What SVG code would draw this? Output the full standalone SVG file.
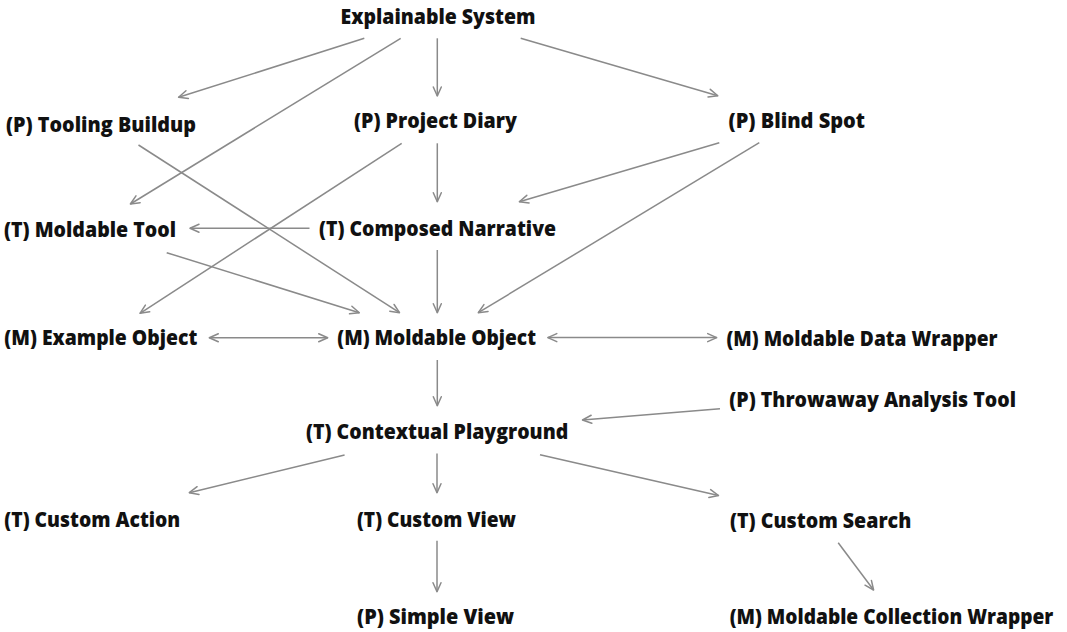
<svg xmlns="http://www.w3.org/2000/svg" width="1067" height="632" viewBox="0 0 1067 632">
<style>
  text { font-family: "Open Sans", "Lato", "Liberation Sans", sans-serif; font-weight: 800; font-size: 21px; fill: #111; font-variant-ligatures: none; }
  .e { stroke: #8a8a8a; stroke-width: 1.5; fill: none; marker-end: url(#ah); }
  .b { marker-start: url(#ah); }
</style>
<defs>
  <marker id="ah" markerUnits="userSpaceOnUse" markerWidth="14" markerHeight="12" viewBox="-11 -6 14 12" refX="0" refY="0" orient="auto-start-reverse">
    <path d="M-9,-4 L0,0 L-9,4" fill="none" stroke="#8a8a8a" stroke-width="1.5" stroke-linecap="round" stroke-linejoin="round"/>
  </marker>
</defs>
<rect width="1067" height="632" fill="#fff"/>
<g id="connectors">
  <line class="e" x1="364.3" y1="38.3" x2="178.6" y2="97.3"/>
  <line class="e" x1="400.7" y1="38.3" x2="130.4" y2="204"/>
  <line class="e" x1="437.3" y1="38.3" x2="437.3" y2="96"/>
  <line class="e" x1="520.7" y1="38.3" x2="717.8" y2="95.7"/>
  <line class="e" x1="138.5" y1="145" x2="399.5" y2="312.7"/>
  <line class="e" x1="401.7" y1="143.3" x2="140" y2="313.3"/>
  <line class="e" x1="437.3" y1="143.3" x2="437.3" y2="201.7"/>
  <line class="e" x1="719.3" y1="142.7" x2="519.3" y2="201.7"/>
  <line class="e" x1="759.3" y1="142.7" x2="478.3" y2="312.7"/>
  <line class="e" x1="309.5" y1="228.3" x2="190" y2="228.3"/>
  <line class="e" x1="166.7" y1="252.7" x2="359.3" y2="312.7"/>
  <line class="e" x1="437.3" y1="250" x2="437.3" y2="312.7"/>
  <line class="e b" x1="209.3" y1="337.7" x2="327.7" y2="337.7"/>
  <line class="e b" x1="547.8" y1="337.6" x2="716.7" y2="337.6"/>
  <line class="e" x1="437.3" y1="360" x2="437.3" y2="405.7"/>
  <line class="e" x1="720" y1="408.7" x2="582.5" y2="420"/>
  <line class="e" x1="344.6" y1="455" x2="189.3" y2="492.7"/>
  <line class="e" x1="437" y1="453.5" x2="437" y2="492.7"/>
  <line class="e" x1="540" y1="454.7" x2="718.5" y2="495.5"/>
  <line class="e" x1="437" y1="540.7" x2="437" y2="591.7"/>
  <line class="e" x1="838.2" y1="542.7" x2="873.6" y2="590"/>
</g>
<g id="n-explainable-system"><text x="340.5" y="24" textLength="195" lengthAdjust="spacingAndGlyphs">Explainable System</text></g>
<g id="n-tooling-buildup"><text x="6" y="131.7" textLength="190" lengthAdjust="spacingAndGlyphs">(P) Tooling Buildup</text></g>
<g id="n-project-diary"><text x="354" y="128.3" textLength="163" lengthAdjust="spacingAndGlyphs">(P) Project Diary</text></g>
<g id="n-blind-spot"><text x="728.5" y="127.7" textLength="136.5" lengthAdjust="spacingAndGlyphs">(P) Blind Spot</text></g>
<g id="n-moldable-tool"><text x="4" y="236.7" textLength="172" lengthAdjust="spacingAndGlyphs">(T) Moldable Tool</text></g>
<g id="n-composed-narrative"><text x="319" y="236" textLength="237" lengthAdjust="spacingAndGlyphs">(T) Composed Narrative</text></g>
<g id="n-example-object"><text x="4.3" y="345" textLength="193" lengthAdjust="spacingAndGlyphs">(M) Example Object</text></g>
<g id="n-moldable-object"><text x="337.3" y="345.3" textLength="198.7" lengthAdjust="spacingAndGlyphs">(M) Moldable Object</text></g>
<g id="n-moldable-data-wrapper"><text x="726.5" y="345.7" textLength="271" lengthAdjust="spacingAndGlyphs">(M) Moldable Data Wrapper</text></g>
<g id="n-throwaway-analysis-tool"><text x="729.3" y="406.7" textLength="286.7" lengthAdjust="spacingAndGlyphs">(P) Throwaway Analysis Tool</text></g>
<g id="n-contextual-playground"><text x="306" y="438.5" textLength="262.3" lengthAdjust="spacingAndGlyphs">(T) Contextual Playground</text></g>
<g id="n-custom-action"><text x="4.3" y="527.3" textLength="176" lengthAdjust="spacingAndGlyphs">(T) Custom Action</text></g>
<g id="n-custom-view"><text x="357" y="527.3" textLength="159" lengthAdjust="spacingAndGlyphs">(T) Custom View</text></g>
<g id="n-custom-search"><text x="730" y="528.3" textLength="181.3" lengthAdjust="spacingAndGlyphs">(T) Custom Search</text></g>
<g id="n-simple-view"><text x="357" y="624" textLength="157" lengthAdjust="spacingAndGlyphs">(P) Simple View</text></g>
<g id="n-moldable-collection-wrapper"><text x="729.7" y="624.2" textLength="323.6" lengthAdjust="spacingAndGlyphs">(M) Moldable Collection Wrapper</text></g>
</svg>
